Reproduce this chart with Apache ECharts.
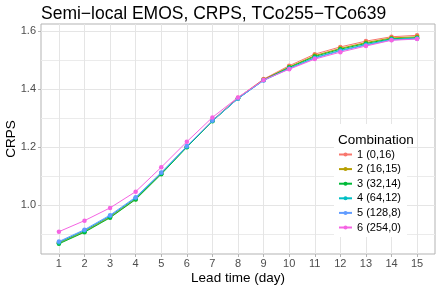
<!DOCTYPE html>
<html>
<head>
<meta charset="utf-8">
<script src="https://cdn.jsdelivr.net/npm/echarts@6/dist/echarts.min.js"></script>
<style>html,body{margin:0;padding:0;background:#fff}#c{width:441px;height:289px}</style>
</head>
<body>
<div id="c"></div>
<script>
const leadTimes = [1,2,3,4,5,6,7,8,9,10,11,12,13,14,15];
const combos = ['1 (0,16)','2 (16,15)','3 (32,14)','4 (64,12)','5 (128,8)','6 (254,0)'];
const colors = ['#F8766D','#B79F00','#00BA38','#00BFC4','#619CFF','#F564E3'];
const c1 = [0.870,0.910,0.960,1.022,1.110,1.202,1.292,1.370,1.434,1.480,1.520,1.545,1.565,1.580,1.585];
const c2 = [0.868,0.908,0.958,1.020,1.108,1.200,1.290,1.368,1.432,1.476,1.515,1.540,1.560,1.576,1.580];
const c3 = [0.866,0.906,0.956,1.019,1.106,1.199,1.289,1.367,1.431,1.474,1.512,1.537,1.557,1.573,1.577];
const c4 = [0.871,0.912,0.962,1.024,1.110,1.201,1.290,1.367,1.430,1.471,1.508,1.533,1.553,1.571,1.575];
const c5 = [0.874,0.915,0.965,1.027,1.112,1.203,1.291,1.367,1.429,1.470,1.506,1.531,1.551,1.569,1.573];
const c6 = [0.908,0.946,0.990,1.046,1.130,1.218,1.302,1.371,1.431,1.468,1.503,1.527,1.548,1.568,1.572];
const values = [c1,c2,c3,c4,c5,c6];
const yMajor = [1.0,1.2,1.4,1.6];
const yMinor = [0.9,1.1,1.3,1.5];

const FONT = '"Liberation Sans", Arial, sans-serif';
const chart = echarts.init(document.getElementById('c'), null, {renderer:'canvas'});
chart.setOption({
  animation:false,
  backgroundColor:'#fff',
  title:[
    {text:'Semi\u2212local EMOS, CRPS, TCo255\u2212TCo639', left:36, top:0,
     textStyle:{fontFamily:FONT,fontSize:17.5,fontWeight:'normal',color:'#000'}},
    {text:'Combination', left:333, top:128, z:10,
     textStyle:{fontFamily:FONT,fontSize:13.5,fontWeight:'normal',color:'#000'}}
  ],
  grid:{left:41,right:6,top:24,bottom:35,show:true,borderColor:'#B3B3B3',borderWidth:1,
    backgroundColor:'transparent',outerBoundsMode:'none',containLabel:false},
  xAxis:{type:'value',min:0.3,max:15.7,name:'Lead time (day)',nameLocation:'middle',nameGap:17,
    nameMoveOverlap:false,
    nameTextStyle:{fontFamily:FONT,fontSize:13.5,color:'#000'},
    axisLine:{show:false},
    axisTick:{show:true,length:3,lineStyle:{color:'#B3B3B3'},customValues:leadTimes},
    axisLabel:{fontFamily:FONT,fontSize:11,color:'#4D4D4D',margin:4,customValues:leadTimes},
    splitLine:{show:true,lineStyle:{color:'#E5E5E5',width:1}}},
  yAxis:[
   {type:'value',min:0.831,max:1.624,name:'CRPS',nameLocation:'middle',nameGap:23,
    nameMoveOverlap:false,
    nameTextStyle:{fontFamily:FONT,fontSize:13.5,color:'#000'},
    axisLine:{show:false},
    axisTick:{show:true,length:3,lineStyle:{color:'#B3B3B3'},customValues:yMajor},
    axisLabel:{fontFamily:FONT,fontSize:11,color:'#4D4D4D',margin:5,customValues:yMajor,
      formatter:v=>v.toFixed(1)},
    splitLine:{show:true,lineStyle:{color:'#E5E5E5',width:1}}},
   {type:'value',min:0.831,max:1.624,position:'left',
    axisLine:{show:false},
    axisTick:{show:false,customValues:yMinor},
    axisLabel:{show:false,customValues:yMinor},
    splitLine:{show:true,lineStyle:{color:'#EBEBEB',width:1}}}
  ],
  legend:{orient:'vertical',left:334,top:124,padding:[25,6,4,4],backgroundColor:'#fff',
    itemWidth:13,itemHeight:5,itemGap:3.6,data:combos,
    textStyle:{fontFamily:FONT,fontSize:11,color:'#000'}},
  series: values.map((v,i)=>({
    name:combos[i],type:'line',data:v.map((y,j)=>[leadTimes[j],y]),
    symbol:'circle',symbolSize:4.5,lineStyle:{width:1,color:colors[i]},
    itemStyle:{color:colors[i]},z:2+i
  }))
});
</script>
</body>
</html>
